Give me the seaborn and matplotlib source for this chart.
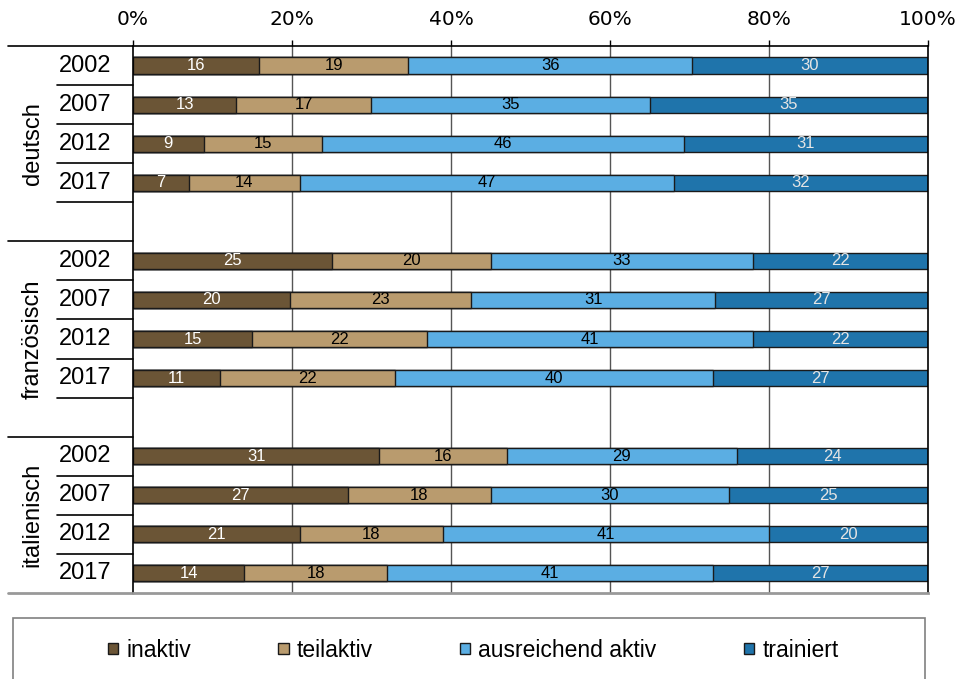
import numpy as np
import pandas as pd
import matplotlib
matplotlib.use("Agg")
import matplotlib.pyplot as plt
from matplotlib.patches import Patch, Rectangle
import seaborn as sns

# -----------------------------
# Data
# -----------------------------
sprachen = ["deutsch", "französisch", "italienisch"]
jahre = ["2002", "2007", "2012", "2017"]
kategorien = ["inaktiv", "teilaktiv", "ausreichend aktiv", "trainiert"]

inaktiv = [16, 13, 9, 7, 25, 20, 15, 11, 31, 27, 21, 14]
teilaktiv = [19, 17, 15, 14, 20, 23, 22, 22, 16, 18, 18, 18]
ausreichend = [36, 35, 46, 47, 33, 31, 41, 40, 29, 30, 41, 41]
trainiert = [30, 35, 31, 32, 22, 27, 22, 27, 24, 25, 20, 27]

farben = ["#6b5536", "#b99b6e", "#5baee3", "#1f74ab"]
textfarben = ["white", "black", "black", "#e4e4e4"]

# -----------------------------
# Build table (100% stacked)
# -----------------------------
rows = []
for g, sprache in enumerate(sprachen):
    for j, jahr in enumerate(jahre):
        rows.append({"Sprache": sprache, "Jahr": jahr, "pos": g * 5 + j})
df = pd.DataFrame(rows)
werte = np.array([inaktiv, teilaktiv, ausreichend, trainiert], dtype=float).T
anteil = werte / werte.sum(axis=1, keepdims=True) * 100
kum = np.cumsum(anteil, axis=1)
for i in range(4):
    df[f"kum{i}"] = kum[:, i]

sns.set_style("white")
plt.rcParams["font.family"] = ["Liberation Sans", "DejaVu Sans"]
plt.rcParams["text.color"] = "black"
plt.rcParams["xtick.color"] = "black"

fig = plt.figure(figsize=(9.56, 6.79), dpi=100)
ax = fig.add_axes([0.1391, 0.1267, 0.8316, 0.8056])

for v in [20, 40, 60, 80]:
    ax.axvline(v, color="#555555", lw=1, zorder=0)

# draw longest cumulative bar first, shorter ones on top
for i in reversed(range(4)):
    sns.barplot(data=df, x=f"kum{i}", y="pos", orient="h", native_scale=True,
                color=farben[i], saturation=1, width=0.41, errorbar=None,
                edgecolor="#1a1a1a", linewidth=1, ax=ax, zorder=2)

# segment labels
for r in range(len(df)):
    left = 0
    for i in range(4):
        ax.text(left + anteil[r, i] / 2, df["pos"][r], str(int(werte[r, i])),
                ha="center", va="center", fontsize=12, color=textfarben[i], zorder=3)
        left += anteil[r, i]

ax.set_xlim(0, 100)
ax.set_ylim(13.5, -0.5)
ax.set_xlabel("")
ax.set_ylabel("")
ax.set_yticks([])
ax.xaxis.tick_top()
ax.set_xticks([0, 20, 40, 60, 80, 100])
ax.set_xticklabels([f"{v}%" for v in [0, 20, 40, 60, 80, 100]], family="DejaVu Sans")
ax.tick_params(axis="x", direction="out", length=4.5, width=1, pad=8, labelsize=14.5,
               colors="black", labelcolor="black")

for s in ["top", "left", "right"]:
    ax.spines[s].set_color("black")
    ax.spines[s].set_linewidth(1.2)
ax.spines["bottom"].set_color("#999999")
ax.spines["bottom"].set_linewidth(2)

# left side category structure
tr = ax.get_yaxis_transform()
for g, sprache in enumerate(sprachen):
    start = g * 5 - 0.5
    ende = min(g * 5 + 4.5, 13.5)
    ax.plot([-0.157, 0], [start, start], transform=tr, color="black", lw=1.2, clip_on=False)
    ax.text(-0.126, (start + ende) / 2, sprache, transform=tr, rotation=90,
            ha="center", va="center", fontsize=17, color="black")
    for j, jahr in enumerate(jahre):
        p = g * 5 + j
        ax.text(-0.0604, p, jahr, transform=tr, ha="center", va="center", fontsize=17,
                color="black")
        if p + 0.5 < 13.5:
            ax.plot([-0.0956, 0], [p + 0.5, p + 0.5], transform=tr, color="black",
                    lw=1.2, clip_on=False)
ax.plot([-0.157, 0], [13.5, 13.5], transform=tr, color="#999999", lw=2, clip_on=False)

# legend
handles = [Patch(facecolor=c, edgecolor="#1a1a1a", lw=1) for c in farben]
leg = fig.legend(handles, kategorien, loc="center", bbox_to_anchor=(0.4948, 0.042), ncol=4,
                 frameon=False, fontsize=16.5, handlelength=0.46, handleheight=0.34,
                 handletextpad=0.35, columnspacing=3.8)
for t in leg.get_texts():
    t.set_color("black")
fig.add_artist(Rectangle((13 / 956, -0.05), (925 - 13) / 956, 1 - 618 / 679 + 0.05,
                         transform=fig.transFigure, fill=False, edgecolor="#808080", lw=1.2))

fig.savefig("out.png", dpi=100)
